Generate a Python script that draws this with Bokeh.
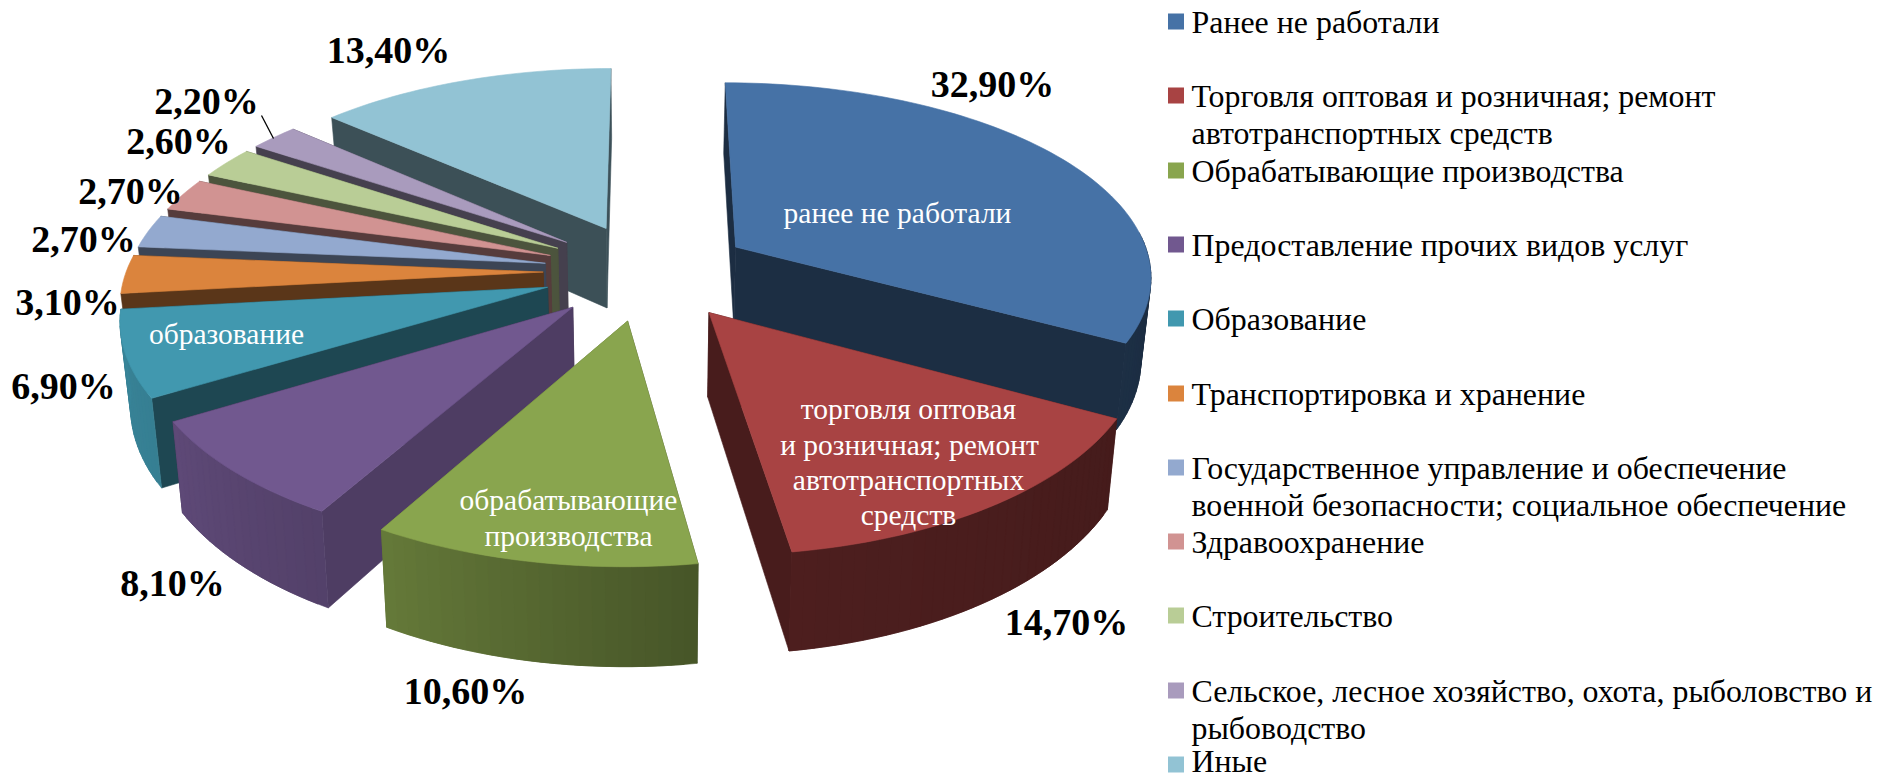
import numpy as np
from bokeh.plotting import figure
from bokeh.models import ColumnDataSource, Range1d
from bokeh.core.properties import value
from bokeh.embed import file_html
from bokeh.resources import INLINE

categories = ["Ранее не работали",
              "Торговля оптовая и розничная; ремонт\nавтотранспортных средств",
              "Обрабатывающие производства",
              "Предоставление прочих видов услуг",
              "Образование",
              "Транспортировка и хранение",
              "Государственное управление и обеспечение\nвоенной безопасности; социальное обеспечение",
              "Здравоохранение",
              "Строительство",
              "Сельское, лесное хозяйство, охота, рыболовство и\nрыбоводство",
              "Иные"]
shares = [32.9, 14.7, 10.6, 8.1, 6.9, 3.1, 2.7, 2.7, 2.6, 2.2, 13.4]
colors = ["#4672A6", "#A84343", "#89A54E", "#71588F", "#4198AF", "#DB843D",
          "#93A9CF", "#D19392", "#B9CD96", "#A99BBD", "#92C3D4"]

# projection of the exploded 3-D pie
CX, CY, RX, RY, PERSP_X, PERSP_Y, DEPTH, EXPLODE, BOTTOM_X = 647, 271, 417, 194.5, 0.135, 0.144, 82, 0.25, 0.98
DRAW_ORDER = [10, 9, 8, 7, 6, 5, 0, 4, 3, 1, 2]
RIM_LAST_ANGLE = 262


def project(u, v, low=False):
    den = 1 - PERSP_Y * v
    x = RX * u / (1 - PERSP_X * v)
    y = CY + RY * v / den
    if low:
        x *= BOTTOM_X
        y += DEPTH / den
    return CX + x, y


def rgb(hex_color, shade):
    r, g, b = (int(hex_color[i:i + 2], 16) for i in (1, 3, 5))
    return "#%02x%02x%02x" % (int(r * shade), int(g * shade), int(b * shade))


def rim_shade(t):
    return float(np.interp(t, [100, 171, 172, 210, 240, 270], [.40, .46, .52, .74, .84, .88]))


def edge_shade(t):
    return float(np.interp(t, [100, 172, 209, 239, 265, 360], [.40, .43, .70, .47, .41, .42]))


total = sum(shares)
edges = np.cumsum([0] + shares) / total * 360
xs, ys, fills = [], [], []


def add(px, py, col):
    xs.append(list(map(float, px)))
    ys.append(list(map(float, py)))
    fills.append(col)


for i in DRAW_ORDER:
    t0, t1 = edges[i], edges[i + 1]
    mid_deg = (t0 + t1) / 2
    mid = np.radians(mid_deg)
    ou, ov = EXPLODE * np.sin(mid), -EXPLODE * np.cos(mid)
    th = np.linspace(t0, t1, max(3, int((t1 - t0) / 1.5) + 1))
    u = ou + np.sin(np.radians(th))
    v = ov - np.cos(np.radians(th))
    # radial walls: the one that faces the viewer goes last
    walls = [(t0, u[0], v[0]), (t1, u[-1], v[-1])]
    if mid_deg > 180:
        walls.reverse()
    for t, uu, vv in walls:
        a = project(ou, ov); b = project(uu, vv)
        c = project(uu, vv, True); d = project(ou, ov, True)
        add([a[0], b[0], c[0], d[0]], [a[1], b[1], c[1], d[1]], rgb(colors[i], edge_shade(t)))
    # outer wall, front part only, strip by overlapping strip so its shade can follow the angle
    for j in range(len(th) - 1):
        tm = (th[j] + th[j + 1]) / 2
        if tm < 85 or tm > RIM_LAST_ANGLE:
            continue
        k = min(j + 2, len(th) - 1)
        a = project(u[j], v[j]); b = project(u[j + 1], v[j + 1]); e = project(u[k], v[k])
        c = project(u[j + 1], v[j + 1], True); f = project(u[k], v[k], True); d = project(u[j], v[j], True)
        add([a[0], b[0], e[0], f[0], c[0], d[0]], [a[1], b[1], e[1], f[1], c[1], d[1]],
            rgb(colors[i], rim_shade(tm)))
    # top face
    ax, ay = project(ou, ov)
    tx, ty = project(u, v)
    add(np.r_[ax, tx], np.r_[ay, ty], colors[i])

p = figure(width=1878, height=778, x_range=Range1d(0, 1878), y_range=Range1d(778, 0),
           output_backend="svg", toolbar_location=None, min_border=0)
p.axis.visible = False
p.grid.visible = False
p.outline_line_color = None
p.background_fill_color = "white"

p.patches("xs", "ys", source=ColumnDataSource(dict(xs=xs, ys=ys, c=fills)),
          fill_color="c", line_color="c", line_width=0.6)

SERIF = value("Liberation Serif")

# percentage labels
pct = [f"{s:.2f}%".replace(".", ",") for s in shares]
pct_x = [992, 1066, 465, 172, 63, 67, 83, 130, 178, 206, 388]
pct_y = [83, 621, 690, 582, 385, 301, 238, 190, 140, 100, 49]
p.text(pct_x, pct_y, text=pct, text_font=SERIF, text_font_size=value("38px"),
       text_font_style="bold", text_align="center", text_baseline="middle", text_color="black")

# leader of the 2,20% label
p.line([261, 273], [115, 138], line_color="black", line_width=1.3)

# names written on the slices
inner = ["ранее не работали", "торговля оптовая", "и розничная; ремонт", "автотранспортных",
         "средств", "обрабатывающие", "производства", "образование"]
inner_x = [897, 908, 909, 908, 908, 568, 568, 226]
inner_y = [212, 408, 444, 479, 514, 499, 535, 333]
p.text(inner_x, inner_y, text=inner, text_font=SERIF, text_font_size=value("29.5px"),
       text_align="center", text_baseline="middle", text_color="white")

# legend
rows = [21, 95, 170, 244, 318, 393, 467, 541, 615, 690, 764]
p.rect([1175.5] * len(rows), rows, width=16, height=16, fill_color=colors, line_color=None)
lx, ly, lt = [], [], []
for r, name in zip(rows, categories):
    for k, line in enumerate(name.split("\n")):
        lx.append(1191); ly.append(min(r + 1 + 37 * k, 761)); lt.append(line)
p.text(lx, ly, text=lt, text_font=SERIF, text_font_size=value("31.9px"),
       text_align="left", text_baseline="alphabetic", text_color="black")

open("out.html", "w").write(file_html(p, INLINE))
